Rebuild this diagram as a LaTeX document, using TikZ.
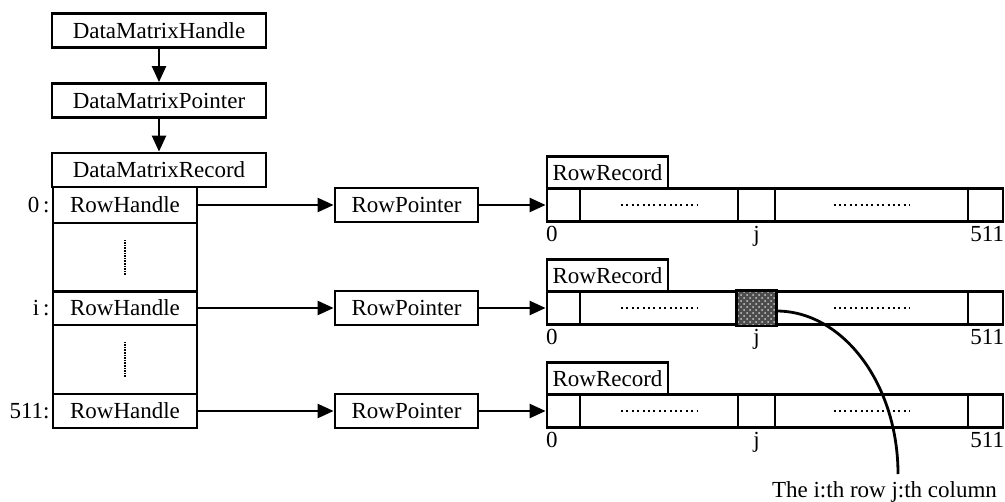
\documentclass[tikz,border=0pt]{standalone}
\usepackage{fontspec}
\setmainfont{Liberation Serif}
\usetikzlibrary{arrows.meta,patterns}
\begin{document}
\begin{tikzpicture}[x=0.5pt,y=-0.5pt,
  every node/.style={font=\fontsize{11.5}{13}\selectfont},
  box/.style={draw, line width=1.4pt, inner sep=0pt},
  wide/.style={box, minimum width=107pt, minimum height=17pt},
  handle/.style={box, minimum width=72pt, minimum height=17pt},
  gapcell/.style={box, minimum width=72pt, minimum height=34.5pt},
  ptr/.style={box, minimum width=71.5pt, minimum height=17pt},
  cell/.style={box, minimum height=16.5pt},
  reclabel/.style={box, minimum width=60.5pt, minimum height=16pt},
  link/.style={line width=1.2pt, -{Triangle[length=8pt,width=7pt]}},
  vdots/.style={line width=1.2pt, dash pattern=on 0.8pt off 0.5pt},
  hdots/.style={line width=1.2pt, dash pattern=on 1pt off 1.7pt},
  idx/.style={inner sep=0pt}
]
\useasboundingbox (0,0) rectangle (1005,502);

% handle chain
\node[wide] (dmh) at (159,30.5) {DataMatrixHandle};
\node[wide] (dmp) at (159,100.5) {DataMatrixPointer};
\node[wide, minimum height=17pt] (dmr) at (159,170) {DataMatrixRecord};
\draw[link] (dmh) -- (dmp);
\draw[link] (dmp) -- (dmr);

% column of row handles
\node[handle, minimum height=18pt] (rh0) at (125,205) {RowHandle};
\node[gapcell] (gap1) at (125,257.5) {};
\node[handle] (rhi) at (125,308) {RowHandle};
\node[gapcell] (gap2) at (125,359.5) {};
\node[handle] (rhn) at (125,411) {RowHandle};
\draw[vdots] ([yshift=9pt]gap1.center) -- ([yshift=-9pt]gap1.center);
\draw[vdots] ([yshift=9pt]gap2.center) -- ([yshift=-9pt]gap2.center);

\node[idx, anchor=east] (l0) at (50,205) {0\,:};
\node[idx, anchor=east] (li) at (50,308) {i\,:};
\node[idx, anchor=east] (ln) at (50,411) {511:};

% row pointers and row records
\foreach \r/\y in {0/205, i/308, n/411} {
  \node[ptr] (rp\r) at (406.5,\y) {RowPointer};
  \node[cell, minimum width=16.5pt] (c\r1) at (563.5,\y) {};
  \node[cell, minimum width=79pt]   (c\r2) at (659,\y) {};
  \node[cell, minimum width=18.5pt] (c\r3) at (756.5,\y) {};
  \node[cell, minimum width=96.5pt] (c\r4) at (871.5,\y) {};
  \node[cell, minimum width=17.5pt] (c\r5) at (985.5,\y) {};
  \node[reclabel] (rr\r) at (607.5,\y-32.5) {RowRecord};
  \draw[hdots] ([xshift=-19pt]c\r2.center) -- ([xshift=19pt]c\r2.center);
  \draw[hdots] ([xshift=-19pt]c\r4.center) -- ([xshift=19pt]c\r4.center);
  \node[idx, anchor=north west] (z\r) at ([yshift=-1.5pt]c\r1.south west) {0};
  \node[idx, anchor=north] (j\r) at ([yshift=-1.5pt]c\r3.south) {j};
  \node[idx, anchor=north east] (e\r) at ([yshift=-1.5pt]c\r5.south east) {511};
  \draw[link] (rh\r) -- (rp\r);
  \draw[link] (rp\r) -- (c\r1);
}

% the selected element
\fill[black!70] (ci3.south west) rectangle (ci3.north east);
\fill[pattern=crosshatch dots, pattern color=white!80!black] (ci3.south west) rectangle (ci3.north east);
\draw[line width=1.4pt] (ci3.south west) rectangle (ci3.north east);

\node[idx, anchor=base] (note) at (884.5,497) {The i:th row j:th column};
\coordinate (tip) at (898,474);
\draw[line width=1.4pt] ([yshift=-1.5pt]ci3.east) .. controls (843,311) and (898,384) .. (tip);
\end{tikzpicture}
\end{document}
